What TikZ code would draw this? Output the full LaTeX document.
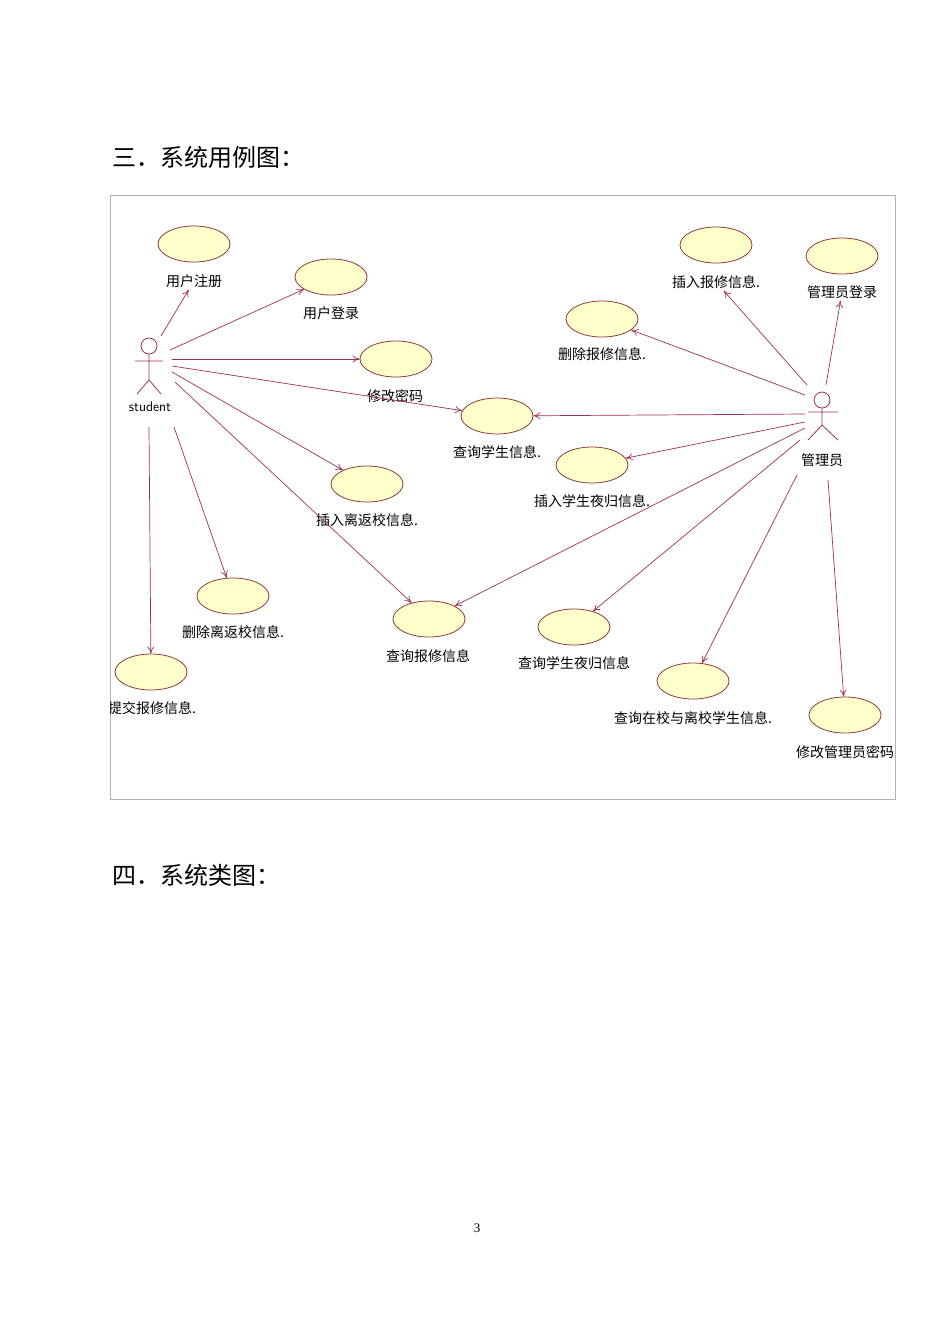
\documentclass[tikz,border=0pt]{standalone}
\usepackage{fontspec}
\setmainfont{Liberation Serif}
\newfontfamily\cjk{Noto Sans CJK SC}
\usetikzlibrary{shapes.geometric,arrows.meta}
\definecolor{ucfill}{HTML}{FFFFCC}
\definecolor{ucline}{HTML}{8C3A3A}
\definecolor{conn}{HTML}{A03050}
\begin{document}
\begin{tikzpicture}[x=1pt,y=-1pt,
  uc/.style={ellipse,draw=ucline,fill=ucfill,line width=0.8pt,minimum width=72pt,minimum height=36pt,inner sep=0pt},
  lbl/.style={font=\cjk\fontsize{14}{14}\selectfont,inner sep=2pt},
  act/.style={draw=conn,line width=0.8pt},
  con/.style={draw=conn,line width=0.7pt,-{To[length=7pt,width=7pt]}},
  hd/.style={font=\cjk\fontsize{24}{24}\selectfont,anchor=west,inner sep=0pt}]
\useasboundingbox (0,0) rectangle (950,1318);
\node[hd] (h1) at (112,157) {三．系统用例图：};
\node[hd] (h2) at (112,875) {四．系统类图：};
\node[font=\fontsize{13}{13}\selectfont] (pg) at (477,1228) {3};
\draw[gray!60,line width=0.8pt] (110,195) rectangle (895,799);
\begin{scope}
\clip (110,195) rectangle (895,799);
% use cases
\node[uc] (u1) at (194,244) {}; \node[lbl] (l1) at (194,281) {用户注册};
\node[uc] (u2) at (331,277) {}; \node[lbl] at (331,313) {用户登录};
\node[uc] (u3) at (396,359) {}; \node[lbl] at (395,396) {修改密码};
\node[uc] (u4) at (497,416) {}; \node[lbl] at (497,452) {查询学生信息.};
\node[uc] (u5) at (367,484) {}; \node[lbl] at (367,520) {插入离返校信息.};
\node[uc] (u6) at (233,596) {}; \node[lbl] at (233,632) {删除离返校信息.};
\node[uc] (u7) at (151,672) {}; \node[lbl] at (152,708) {提交报修信息.};
\node[uc] (u8) at (429,619) {}; \node[lbl] at (428,656) {查询报修信息};
\node[uc] (m1) at (716,245) {}; \node[lbl] (k1) at (716,282) {插入报修信息.};
\node[uc] (m2) at (842,256) {}; \node[lbl] (k2) at (842,292) {管理员登录};
\node[uc] (m3) at (602,319) {}; \node[lbl] at (602,354) {删除报修信息.};
\node[uc] (m4) at (592,465) {}; \node[lbl] at (592,501) {插入学生夜归信息.};
\node[uc] (m5) at (574,627) {}; \node[lbl] at (574,663) {查询学生夜归信息};
\node[uc] (m6) at (693,681) {}; \node[lbl] at (693,718) {查询在校与离校学生信息.};
\node[uc] (m7) at (845,715) {}; \node[lbl] at (845,752) {修改管理员密码};
% actors
\draw[act] (149,346) circle (8);
\draw[act] (149,354) -- (149,380) (135,361) -- (163,361) (137,394) -- (149,380) -- (161,394);
\node[font=\sffamily\fontsize{14}{14}\selectfont,inner sep=0pt] at (150,407) {student};
\draw[act] (822,400) circle (8);
\draw[act] (822,408) -- (822,425) (808,412) -- (838,412) (808,440) -- (822,425) -- (838,440);
\node[lbl] at (822,460) {管理员};
% attachment points
\coordinate (s1) at (161,336); \coordinate (s2) at (170,350); \coordinate (s3) at (172,359);
\coordinate (s4) at (172,366); \coordinate (s5) at (172,372); \coordinate (s6) at (175,382);
\coordinate (s7) at (174,427); \coordinate (s8) at (149,427);
\coordinate (a1) at (807,385); \coordinate (a2) at (826,385); \coordinate (a3) at (805,395);
\coordinate (a4) at (805,414); \coordinate (a5) at (805,422); \coordinate (a6) at (805,428);
\coordinate (a7) at (800,440); \coordinate (a8) at (797,475); \coordinate (a9) at (828,480);
% connectors
\draw[con] (s1) -- (l1); \draw[con] (s2) -- (u2); \draw[con] (s3) -- (u3);
\draw[con] (s4) -- (u4); \draw[con] (s5) -- (u5); \draw[con] (s6) -- (u8);
\draw[con] (s7) -- (u6); \draw[con] (s8) -- (u7);
\draw[con] (a1) -- (k1); \draw[con] (a2) -- (k2); \draw[con] (a3) -- (m3);
\draw[con] (a4) -- (u4); \draw[con] (a5) -- (m4); \draw[con] (a6) -- (u8);
\draw[con] (a7) -- (m5); \draw[con] (a8) -- (m6); \draw[con] (a9) -- (m7);
\end{scope}
\end{tikzpicture}
\end{document}
